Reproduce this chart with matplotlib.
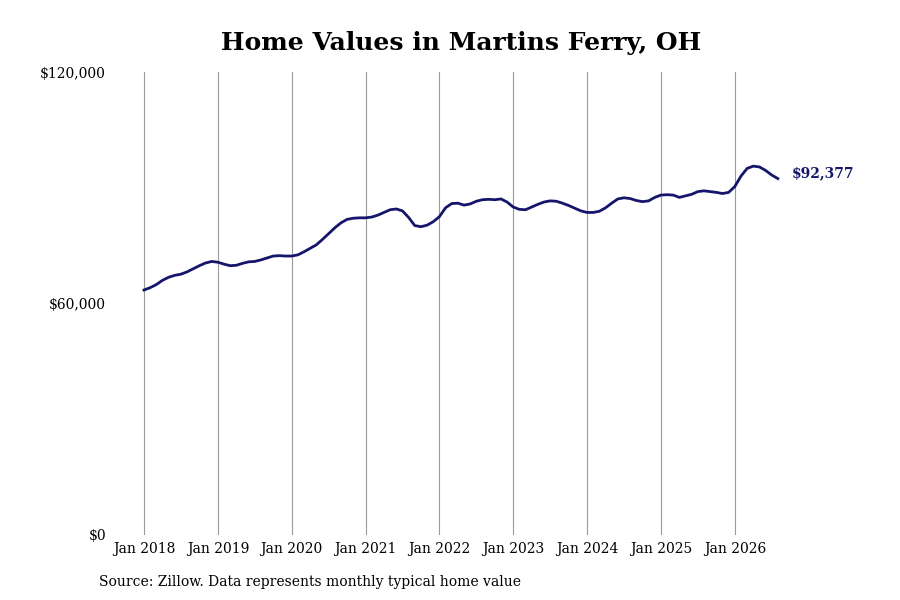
import matplotlib.pyplot as plt
import pandas as pd

plt.rcParams["font.family"] = ["DejaVu Serif"]

# monthly typical home value, Jan 2018 - Aug 2026
start_month = "2018-01"
values = [
    63500, 64100, 64900, 66000, 66800, 67300, 67600, 68200, 69000, 69800, 70500, 70900,
    70700, 70200, 69800, 69900, 70400, 70800, 70900, 71300, 71800, 72300, 72400, 72300,
    72300, 72600, 73400, 74300, 75200, 76600, 78100, 79600, 80900, 81800, 82100, 82200,
    82200, 82400, 82900, 83600, 84300, 84500, 84000, 82300, 80200, 79900, 80300, 81200,
    82500, 84800, 85900, 86000, 85500, 85800, 86500, 86900, 87000, 86900, 87100, 86300,
    85000, 84400, 84300, 85000, 85700, 86300, 86600, 86500, 86000, 85400, 84700, 84000,
    83600, 83600, 83900, 84800, 86000, 87100, 87400, 87200, 86700, 86400, 86600, 87500,
    88100, 88200, 88100, 87500, 87900, 88300, 89000, 89200, 89000, 88800, 88500, 88800,
    90300, 93000, 95000, 95600, 95400, 94500, 93300, 92377,
]
tick_years = list(range(2018, 2027))
y_ticks = [0, 60000, 120000]
y_labels = ["$0", "$60,000", "$120,000"]

dates = pd.date_range(start_month, periods=len(values), freq="MS")
months = list(range(len(values)))

fig = plt.figure(figsize=(9, 6), dpi=100)
ax = fig.add_axes([120 / 900, 65 / 600, 680 / 900, 463 / 600])

ax.plot(months, values, color="#15156b", linewidth=2)

jan_pos = [(y - 2018) * 12 for y in tick_years]
ax.set_xticks(jan_pos)
ax.set_xticklabels([f"Jan {y}" for y in tick_years], fontsize=10)
ax.set_yticks(y_ticks)
ax.set_yticklabels(y_labels, fontsize=10)
ax.tick_params(axis="x", length=0, pad=5)
ax.tick_params(axis="y", length=0, pad=10)
ax.grid(axis="x", color="#9a9a9a", linewidth=0.8)
ax.set_axisbelow(True)
for spine in ax.spines.values():
    spine.set_visible(False)

ax.set_xlim(-3.9, 106.6)
ax.set_ylim(0, 120000)

last = values[-1]
ax.annotate(
    f"${last:,}",
    xy=(months[-1], last),
    xytext=(10, 4),
    textcoords="offset points",
    va="center",
    ha="left",
    fontsize=10,
    fontweight="bold",
    color="#15156b",
)

fig.text(461 / 900, 1 - 43 / 600, "Home Values in Martins Ferry, OH",
         ha="center", va="center", fontsize=18, fontweight="bold")
fig.text(99 / 900, 1 - 582 / 600, "Source: Zillow. Data represents monthly typical home value",
         ha="left", va="center", fontsize=10)

fig.savefig("out.png", dpi=100)
